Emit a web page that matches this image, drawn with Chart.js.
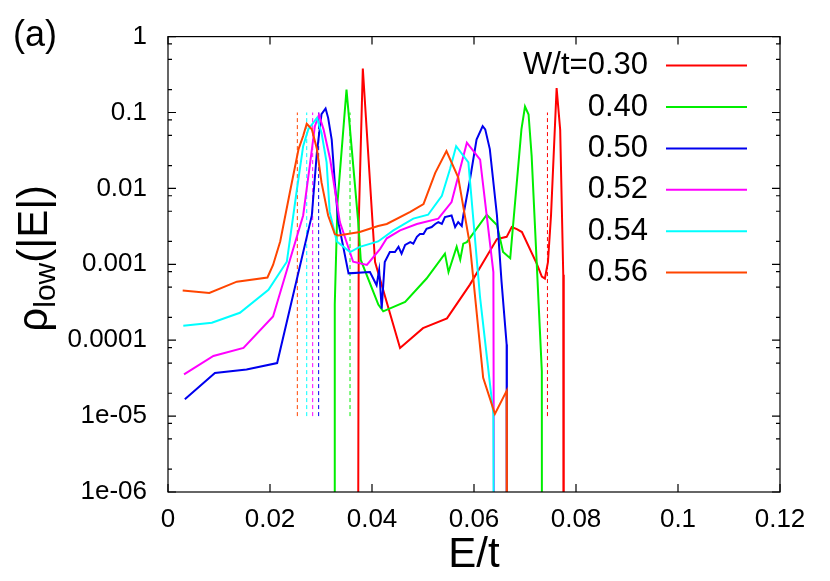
<!DOCTYPE html>
<html>
<head>
<meta charset="utf-8">
<script src="https://cdn.jsdelivr.net/npm/chart.js@4/dist/chart.umd.min.js"></script>
<style>
    html, body { margin: 0; padding: 0; background: #fff; }
    #wrap { width: 830px; height: 581px; }
</style>
</head>
<body>
<div id="wrap"><canvas id="chart"></canvas></div>
<script>
// legend labels and colours, one per W/t
const seriesLabels = ['W/t=0.30', '0.40', '0.50', '0.52', '0.54', '0.56'];
const seriesColors = ['#ff0000', '#00ee00', '#0000ee', '#ff00ff', '#00ffff', '#ff4500'];

// E/t and rho_low(|E|) (1e-12 = drops to zero)
const e030 = [0.03715, 0.0374, 0.0382, 0.0406, 0.0455, 0.0500, 0.0547, 0.0592, 0.0645, 0.0664, 0.0674, 0.0684, 0.0694, 0.0723, 0.0733, 0.0739, 0.0745, 0.0751, 0.0762, 0.0769, 0.0775, 0.0776];
const r030 = [1e-12, 3.6e-3, 0.38, 1.07e-3, 7.9e-5, 1.44e-4, 1.94e-4, 5.4e-4, 2.15e-3, 2.3e-3, 3.1e-3, 2.9e-3, 2.66e-3, 1.02e-3, 6.9e-4, 6.5e-4, 1.07e-3, 4.4e-3, 0.21, 0.059, 7.3e-4, 1e-12];

const e040 = [0.03255, 0.0327, 0.03324, 0.0350, 0.0373, 0.0378, 0.04124, 0.0422, 0.0465, 0.0507, 0.0543, 0.0550, 0.0566, 0.0573, 0.0579, 0.0586, 0.0625, 0.0645, 0.0657, 0.0671, 0.0693, 0.0700, 0.0707, 0.0713, 0.0733, 0.07335];
const r040 = [1e-12, 2.95e-4, 6.6e-3, 0.2, 3.6e-3, 1.14e-3, 2.95e-4, 2.4e-4, 3.2e-4, 6.5e-4, 1.38e-3, 7.9e-4, 1.7e-3, 1.15e-3, 1.87e-3, 1.96e-3, 4.5e-3, 3.3e-3, 1.45e-3, 1.2e-3, 0.06, 0.12, 0.094, 0.027, 3.9e-5, 1e-12];

const e050 = [0.0033, 0.0092, 0.0154, 0.0214, 0.0282, 0.0292, 0.0301, 0.0309, 0.0314, 0.0321, 0.0327, 0.0334, 0.0354, 0.0396, 0.0409, 0.0414, 0.0419, 0.0425, 0.0435, 0.0445,
              0.0452, 0.0458, 0.0465, 0.0475, 0.0481, 0.0488, 0.0494, 0.0501, 0.0507, 0.0517, 0.0524, 0.0530, 0.0537, 0.0543, 0.0556, 0.0563, 0.0569, 0.0576, 0.0579, 0.0592,
              0.0605, 0.0617, 0.0622, 0.0631, 0.0645, 0.0654, 0.0664, 0.06645];
const r050 = [1.67e-5, 3.7e-5, 4.1e-5, 5.0e-5, 4.4e-3, 0.03, 0.095, 0.113, 0.085, 0.044, 0.012, 3.6e-3, 7.6e-4, 7.9e-4, 5.3e-4, 8.4e-4, 2.6e-4, 1.07e-3, 1.45e-3, 1.45e-3,
              1.7e-3, 1.38e-3, 1.8e-3, 1.96e-3, 1.87e-3, 2.3e-3, 2.5e-3, 2.5e-3, 2.94e-3, 3.1e-3, 3.4e-3, 3.6e-3, 3.4e-3, 4.2e-3, 4.4e-3, 3.1e-3, 3.6e-3, 3.2e-3, 4.4e-3, 0.013,
              0.044, 0.066, 0.06, 0.033, 4.4e-3, 5.9e-4, 8.8e-5, 1e-12];

const e052 = [0.00314, 0.0089, 0.0148, 0.0206, 0.0265, 0.0278, 0.0288, 0.0296, 0.0305, 0.0318, 0.0337, 0.0363, 0.0390, 0.0416, 0.0429, 0.0455, 0.0488, 0.0530, 0.0556, 0.0586, 0.0612, 0.0638, 0.0641];
const r052 = [3.55e-5, 6.2e-5, 7.9e-5, 2.05e-4, 4.4e-3, 0.02, 0.066, 0.093, 0.06, 0.024, 3.6e-3, 1.08e-3, 9.8e-4, 1.6e-3, 2.2e-3, 2.8e-3, 3.4e-3, 4.0e-3, 6.6e-3, 0.040, 0.024, 7.9e-4, 1e-12];

const e054 = [0.0030, 0.0086, 0.0141, 0.0197, 0.0233, 0.0252, 0.0265, 0.0275, 0.0292, 0.0301, 0.0311, 0.0317, 0.0331, 0.0357, 0.0376, 0.0412, 0.0442, 0.0481, 0.0510, 0.0537, 0.0553, 0.0565, 0.0589, 0.0612, 0.0638, 0.0641];
const r054 = [1.55e-4, 1.7e-4, 2.3e-4, 4.6e-4, 1.08e-3, 8.9e-3, 0.036, 0.06, 0.085, 0.054, 0.022, 4.9e-3, 2.0e-3, 1.45e-3, 1.7e-3, 2.0e-3, 2.8e-3, 4.0e-3, 4.5e-3, 8.0e-3, 0.018, 0.036, 0.022, 3.6e-4, 1.07e-5, 1e-12];

const e056 = [0.00288, 0.0081, 0.0135, 0.0195, 0.0206, 0.0220, 0.0239, 0.0256, 0.0265, 0.0272, 0.0282, 0.0292, 0.0301, 0.0314, 0.0327, 0.0334, 0.0376, 0.0412, 0.0429, 0.0475,
              0.0501, 0.0524, 0.0546, 0.0569, 0.0592, 0.0618, 0.0641, 0.0664, 0.06645];
const r056 = [4.5e-4, 4.2e-4, 5.9e-4, 6.7e-4, 9.8e-4, 2.0e-3, 8.9e-3, 0.033, 0.049, 0.071, 0.06, 0.033, 0.012, 4.4e-3, 2.5e-3, 2.4e-3, 2.66e-3, 3.2e-3, 3.4e-3, 4.9e-3,
              6.2e-3, 0.016, 0.031, 0.014, 1.8e-3, 3.2e-5, 1.07e-5, 2.15e-5, 1e-12];

// dashed markers, one per W/t (same order as seriesLabels)
const dashE = [0.0744, 0.03569, 0.02954, 0.02837, 0.0272, 0.02536];
const dashRho = [1e-5, 0.1];

// ticks
const xTicks = [0, 0.02, 0.04, 0.06, 0.08, 0.1, 0.12];
const xTickLabels = ['0', '0.02', '0.04', '0.06', '0.08', '0.1', '0.12'];
const yTicks = [1e-6, 1e-5, 1e-4, 1e-3, 1e-2, 1e-1, 1];
const yTickLabels = ['1e-06', '1e-05', '0.0001', '0.001', '0.01', '0.1', '1'];
const yMinor = [2, 5, 8];

const allE = [e030, e040, e050, e052, e054, e056];
const allR = [r030, r040, r050, r052, r054, r056];

const datasets = [];
allE.forEach((es, i) => {
    datasets.push({
        label: seriesLabels[i],
        data: es.map((e, k) => ({ x: e, y: allR[i][k] })),
        borderColor: seriesColors[i],
        borderWidth: 2,
        pointRadius: 0,
        tension: 0,
        fill: false,
        order: 6 - i,
        isMain: true
    });
});
dashE.forEach((e, i) => {
    datasets.push({
        label: 'mark ' + seriesLabels[i],
        data: dashRho.map(r => ({ x: e, y: r })),
        borderColor: seriesColors[i],
        borderWidth: 1,
        borderDash: [4, 3],
        pointRadius: 0,
        fill: false,
        order: 10
    });
});

const FONT = '"Liberation Sans", Arial, sans-serif';

// gnuplot-like frame with inward ticks
const framePlugin = {
    id: 'frame',
    afterDatasetsDraw(chart) {
        const { ctx, chartArea: a, scales: { x, y } } = chart;
        ctx.save();
        ctx.strokeStyle = '#000';
        ctx.lineWidth = 1.2;
        ctx.beginPath();
        xTicks.forEach(v => {
            const px = x.getPixelForValue(v);
            ctx.moveTo(px, a.bottom); ctx.lineTo(px, a.bottom - 8);
            ctx.moveTo(px, a.top); ctx.lineTo(px, a.top + 8);
        });
        yTicks.forEach((v, i) => {
            const py = y.getPixelForValue(v);
            ctx.moveTo(a.left, py); ctx.lineTo(a.left + 8, py);
            ctx.moveTo(a.right, py); ctx.lineTo(a.right - 8, py);
            if (i < yTicks.length - 1) {
                yMinor.forEach(m => {
                    const pm = y.getPixelForValue(v * m);
                    ctx.moveTo(a.left, pm); ctx.lineTo(a.left + 4, pm);
                    ctx.moveTo(a.right, pm); ctx.lineTo(a.right - 4, pm);
                });
            }
        });
        ctx.stroke();
        ctx.strokeRect(a.left, a.top, a.right - a.left, a.bottom - a.top);
        ctx.restore();
    },
    afterDraw(chart) {
        const { ctx, chartArea: a } = chart;
        ctx.save();
        ctx.fillStyle = '#000';

        // key, text right-aligned before the sample line
        ctx.font = '31px ' + FONT;
        ctx.textAlign = 'right';
        ctx.textBaseline = 'middle';
        chart.data.datasets.filter(d => d.isMain).forEach((d, i) => {
            const yy = a.top + 29 + i * 41.4;
            ctx.fillText(d.label, a.right - 132, yy);
            ctx.strokeStyle = d.borderColor;
            ctx.lineWidth = 2;
            ctx.beginPath();
            ctx.moveTo(a.right - 114, yy);
            ctx.lineTo(a.right - 33, yy);
            ctx.stroke();
        });

        // panel tag
        ctx.textAlign = 'left';
        ctx.textBaseline = 'alphabetic';
        ctx.font = '36px ' + FONT;
        ctx.fillText('(a)', 13, 46);

        // y title with subscript
        const big = '42px ' + FONT, small = '30px ' + FONT;
        ctx.font = big;
        const w1 = ctx.measureText('ρ').width;
        const w3 = ctx.measureText('(|E|)').width;
        ctx.font = small;
        const w2 = ctx.measureText('low').width;
        const total = w1 + w2 + w3;
        ctx.translate(47, (a.top + a.bottom) / 2 - 6);
        ctx.rotate(-Math.PI / 2);
        let cx = -total / 2;
        ctx.font = big;
        ctx.fillText('ρ', cx, 0);
        cx += w1;
        ctx.font = small;
        ctx.fillText('low', cx, 8);
        cx += w2;
        ctx.font = big;
        ctx.fillText('(|E|)', cx, 0);
        ctx.restore();
    }
};

const ctx = document.getElementById('chart').getContext('2d');
new Chart(ctx, {
    type: 'line',
    data: { datasets: datasets },
    options: {
        responsive: true,
        maintainAspectRatio: false,
        animation: false,
        events: [],
        layout: { padding: { top: 33, right: 50, left: 0, bottom: 0 } },
        plugins: {
            legend: { display: false },
            tooltip: { enabled: false },
            title: { display: false }
        },
        scales: {
            x: {
                type: 'linear',
                min: 0,
                max: 0.12,
                afterBuildTicks: s => { s.ticks = xTicks.map(v => ({ value: v })); },
                afterFit: s => { s.height = 89; },
                grid: { display: false, drawTicks: false },
                border: { display: false },
                ticks: {
                    autoSkip: false,
                    maxRotation: 0,
                    padding: 12,
                    color: '#000',
                    font: { family: FONT, size: 26 },
                    callback: (v, i) => xTickLabels[i]
                },
                title: {
                    display: true,
                    text: 'E/t',
                    color: '#000',
                    font: { family: FONT, size: 42 },
                    padding: { top: 0, bottom: 0 }
                }
            },
            y: {
                type: 'logarithmic',
                min: 1e-6,
                max: 1,
                afterBuildTicks: s => { s.ticks = yTicks.map(v => ({ value: v })); },
                afterFit: s => { s.width = 168; },
                grid: { display: false, drawTicks: false },
                border: { display: false },
                ticks: {
                    autoSkip: false,
                    padding: 21,
                    color: '#000',
                    font: { family: FONT, size: 26 },
                    callback: (v, i) => yTickLabels[i]
                }
            }
        }
    },
    plugins: [framePlugin]
});
</script>
</body>
</html>
